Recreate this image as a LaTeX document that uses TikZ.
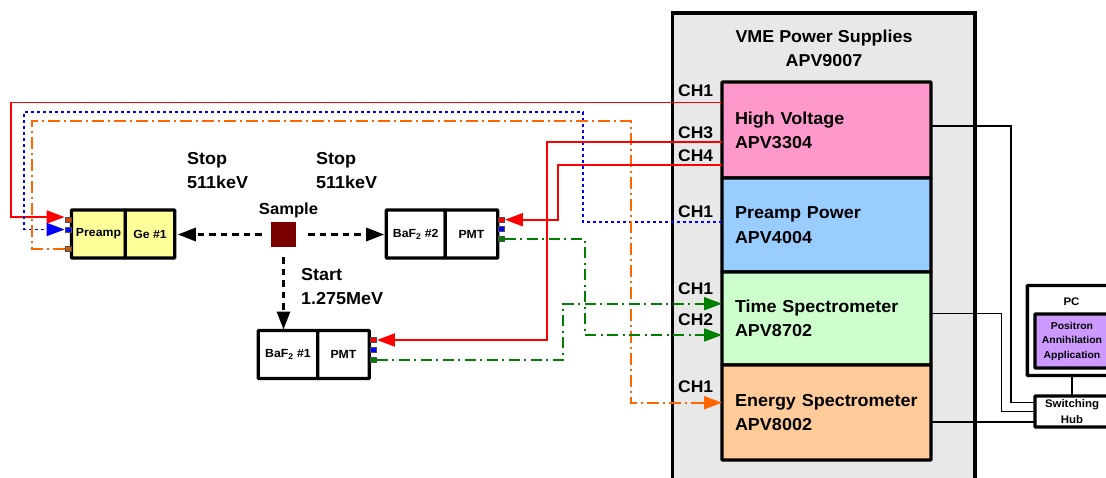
\documentclass[tikz,border=0pt]{standalone}
\usepackage{fontspec}
\setmainfont{Liberation Sans}
\newfontfamily\labf{Liberation Sans}[UprightFont={* Bold},FakeStretch=1.04]
\usetikzlibrary{arrows.meta}
\definecolor{vmegray}{HTML}{E8E8E8}
\definecolor{hvpink}{HTML}{FF99CC}
\definecolor{ppblue}{HTML}{99CCFF}
\definecolor{tsgreen}{HTML}{CCFFCC}
\definecolor{esorange}{HTML}{FFCC99}
\definecolor{preyellow}{HTML}{FFFF99}
\definecolor{appurple}{HTML}{CC99FF}
\definecolor{samplered}{HTML}{7A0000}
\definecolor{lineorange}{HTML}{FF6600}
\definecolor{linegreen}{HTML}{008000}
\definecolor{lineblue}{HTML}{0000FF}
\definecolor{portorange}{HTML}{C06010}
\tikzset{
  thick box/.style={draw=black,line width=3.4pt,rounded corners=0.8pt,inner sep=0pt,outer sep=0pt},
  module/.style={thick box,minimum width=209pt,text width=183pt,inner xsep=13pt,align=left,
     font=\labf\fontsize{17.3}{24.3}\selectfont},
  detector/.style={thick box,minimum height=48pt,align=center,font=\labf\fontsize{11.8}{13}\selectfont},
  port/.style={draw=black!70,line width=0.8pt,minimum width=6pt,minimum height=5pt,inner sep=0pt},
  lab/.style={inner sep=0pt,anchor=west,align=left,font=\labf\fontsize{17.3}{24}\selectfont},
  chlab/.style={inner sep=0pt,anchor=west,font=\labf\fontsize{16.8}{18}\selectfont},
  redline/.style={draw=red,line width=1.9pt},
  blueline/.style={draw=lineblue,line width=1.9pt,dash pattern=on 3pt off 3pt},
  orangeline/.style={draw=lineorange,line width=1.7pt,dash pattern=on 12pt off 4pt on 2pt off 4pt},
  greenline/.style={draw=linegreen,line width=1.7pt,dash pattern=on 11pt off 4.5pt on 2pt off 4.5pt},
  blackarrow/.style={draw=black,line width=3pt,dash pattern=on 6.5pt off 5pt},
  netline/.style={draw=black,line width=1.5pt},
  bigtip/.style={-{Triangle[length=18pt,width=13pt,color=#1,fill=#1]}},
}
\begin{document}
\begin{tikzpicture}[x=1pt,y=-1pt]
\clip (0,0) rectangle (1106,477);
% VME crate
\path[fill=vmegray,draw=black,line width=3.4pt] (672.5,490) -- (672.5,13) -- (975,13) -- (975,490);
\node[inner sep=0pt,align=center,font=\labf\fontsize{17.2}{24}\selectfont] (vme) at (824,48) {VME Power Supplies\\APV9007};
% modules
\node[module,fill=hvpink,minimum height=96pt] (hv) at (826.5,130) {High Voltage\\APV3304};
\node[module,fill=ppblue,minimum height=94pt] (pp) at (826.5,225) {Preamp Power\\APV4004};
\node[module,fill=tsgreen,minimum height=93pt] (ts) at (826.5,318.5) {Time Spectrometer\\APV8702};
\node[module,fill=esorange,minimum height=95pt] (es) at (826.5,412.5) {Energy Spectrometer\\APV8002};
% CH labels
\node[chlab] (c1) at (678,91) {CH1};
\node[chlab] (c2) at (678,133) {CH3};
\node[chlab] (c3) at (678,156) {CH4};
\node[chlab] (c4) at (678,212) {CH1};
\node[chlab] (c5) at (678,289) {CH1};
\node[chlab] (c6) at (678,320) {CH2};
\node[chlab] (c7) at (678,387) {CH1};
% detectors
\node[detector,fill=preyellow,minimum width=54pt] (pre) at (98.5,234) {Preamp};
\node[detector,fill=preyellow,minimum width=49.5pt] (ge) at (150,234) {Ge \#1};
\node[detector,fill=white,minimum width=59pt] (ba2) at (415.7,234) {BaF\textsubscript{2} \#2};
\node[detector,fill=white,minimum width=52.5pt] (pm2) at (471.5,234) {PMT};
\node[detector,fill=white,minimum width=59.5pt] (ba1) at (288,354.5) {BaF\textsubscript{2} \#1};
\node[detector,fill=white,minimum width=51.5pt] (pm1) at (343.5,354.5) {PMT};
% ports
\node[port,fill=portorange!70!red] (p1) at (68,219.5) {};
\node[port,fill=lineblue] (p2) at (68,229.5) {};
\node[port,fill=portorange] (p3) at (68,249) {};
\node[port,fill=red] (p4) at (501.5,219.7) {};
\node[port,fill=lineblue] (p5) at (501.5,229.3) {};
\node[port,fill=linegreen] (p6) at (501.5,239.3) {};
\node[port,fill=red] (p7) at (373.5,340) {};
\node[port,fill=lineblue] (p8) at (373.5,350) {};
\node[port,fill=linegreen] (p9) at (373.5,360) {};
% sample
\node[fill=samplered,minimum size=25pt,inner sep=0pt] (sample) at (283.5,234.5) {};
\node[inner sep=0pt,font=\labf\fontsize{16}{18}\selectfont] (samplel) at (288.5,210) {Sample};
\node[lab] (s1) at (187,171) {Stop\\511keV};
\node[lab] (s2) at (316,171) {Stop\\511keV};
\node[lab] (s3) at (301,287) {Start\\1.275MeV};
% radiation arrows
\draw[blackarrow,bigtip=black,shorten >=3pt] (sample.west) ++(-9,0) -- (sample.west -| ge.east);
\draw[blackarrow,bigtip=black,shorten >=2pt] (sample.east) ++(12,0) -- (sample.east -| ba2.west);
\draw[blackarrow,bigtip=black,shorten >=1pt] (sample.south) ++(0,10) -- (sample.south |- ba1.north);
% PC and hub
\node[thick box,fill=white,minimum width=90pt,minimum height=90pt,anchor=north west] (pc) at (1027.3,285.5) {};
\node[inner sep=0pt,font=\labf\fontsize{11}{13}\selectfont] (pcl) at (1071.5,302) {PC};
\node[thick box,fill=appurple,minimum width=74pt,minimum height=54pt,align=center,anchor=north west,font=\labf\fontsize{10}{14.5}\selectfont] (app) at (1035,314) {Positron\\Annihilation\\Application};
\node[thick box,fill=white,minimum width=74pt,minimum height=31pt,align=center,anchor=north west,font=\labf\fontsize{11}{16}\selectfont] (hub) at (1035,396) {Switching\\Hub};
\draw[netline] (pc.south -| hub.center) -- (hub.north);
\draw[netline] (hv.east |- 0,126) -- (1011,126) -- (1011,402.7) -- (hub.west |- 0,402.7);
\draw[netline] (ts.east |- 0,313.3) -- (1001.7,313.3) -- (1001.7,411.7) -- (hub.west |- 0,411.7);
\draw[netline] (es.east |- 0,422) -- (hub.west |- 0,422);
% signal lines
\draw[redline,bigtip=red] (hv.west |- 0,102.5) -- (11,102.5) -- (11,217) -- (p1.west |- 0,217);
\draw[blueline,bigtip=lineblue] (pp.west |- 0,221.7) -- (583,221.7) -- (583,112) -- (24,112) -- (24,229.5) -- (p2.west);
\draw[orangeline] (p3.west) -- (32.3,249) -- (32.3,121.3) -- (630.7,121.3) -- (630.7,402.7) -- (703,402.7);
\draw[draw=lineorange,line width=1.7pt,bigtip=lineorange] (702,402.7) -- (es.west |- 0,402.7);
\draw[redline,bigtip=red] (hv.west |- 0,142.3) -- (546.7,142.3) -- (546.7,340) -- (p7.east);
\draw[redline,bigtip=red] (hv.west |- 0,165.3) -- (558,165.3) -- (558,219.7) -- (p4.east);
\draw[greenline,bigtip=linegreen] (p6.east) -- (585,239.3) -- (585,335) -- (ts.west |- 0,335);
\draw[greenline,bigtip=linegreen] (p9.east) -- (563.3,360) -- (563.3,303.7) -- (ts.west |- 0,303.7);
\end{tikzpicture}
\end{document}
